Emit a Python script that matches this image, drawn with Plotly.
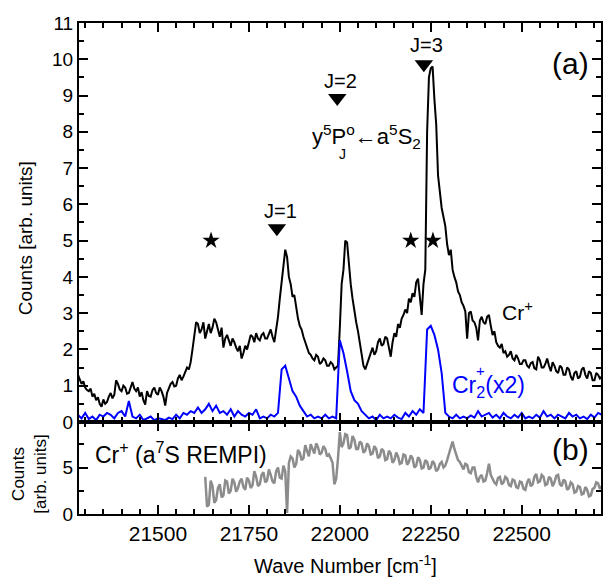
import plotly.graph_objects as go
from plotly.subplots import make_subplots

# ---------------- data ----------------
CR_START, CR_STEP = 21280, 5
cr_counts = [
    1.30, 1.15, 1.05, 1.12, 0.95, 0.88, 0.85, 0.92, 0.70, 0.78,
    0.60, 0.68, 0.50, 0.42, 0.62, 0.50, 0.55, 0.70, 0.80, 0.65,
    0.75, 1.15, 1.05, 0.90, 0.85, 1.00, 0.95, 0.78, 0.80, 0.95,
    1.10, 0.92, 0.85, 0.95, 0.70, 0.82, 0.60, 0.48, 0.85, 0.72,
    0.70, 0.88, 0.95, 0.80, 0.75, 0.95, 0.85, 0.70, 0.45, 0.80,
    0.95, 1.05, 1.10, 0.98, 1.00, 1.20, 1.30, 1.15, 1.25, 1.40,
    1.50, 1.45, 1.65, 2.00, 2.45, 2.75, 2.70, 2.45, 2.55, 2.75,
    2.30, 2.50, 2.70, 2.45, 2.60, 2.85, 2.75, 2.55, 2.35, 2.60,
    2.05, 2.30, 2.40, 2.25, 2.10, 2.30, 2.20, 2.05, 1.95, 2.10,
    1.75, 1.90, 2.10, 2.00, 2.20, 2.40, 2.35, 2.20, 2.45, 2.30,
    2.25, 2.40, 2.45, 2.30, 2.30, 2.45, 2.55, 2.35, 2.20, 2.55,
    2.90, 3.40, 3.90, 4.40, 4.75, 4.55, 4.00, 3.80, 3.45, 3.50,
    3.10, 2.85, 2.65, 2.55, 2.35, 2.20, 2.00, 1.90, 1.85, 1.75,
    1.70, 1.85, 1.80, 1.60, 1.65, 1.75, 1.70, 1.55, 1.55, 1.65,
    1.60, 1.45, 1.50, 1.55, 2.60, 3.80, 4.20, 5.00, 4.95, 4.30,
    3.80, 3.40, 3.00, 2.75, 2.50, 2.15, 1.85, 1.55, 1.45, 1.60,
    1.75, 1.90, 2.05, 1.85, 1.95, 2.20, 2.30, 2.10, 2.15, 2.35,
    2.30, 2.05, 1.80, 2.20, 2.45, 2.35, 2.70, 2.60, 2.85, 2.95,
    3.10, 3.00, 3.40, 3.30, 3.55, 3.45, 3.85, 3.95, 3.40, 2.95,
    3.80, 4.20, 8.00, 9.50, 9.75, 9.80, 8.90, 8.20, 6.80, 6.30,
    5.90, 5.65, 5.40, 4.90, 4.60, 4.75, 4.20, 4.00, 3.85, 3.60,
    3.50, 3.30, 3.20, 3.05, 2.30, 3.00, 3.05, 2.80, 2.75, 2.60,
    2.25, 2.80, 2.90, 2.75, 2.70, 2.90, 2.95, 2.65, 2.40, 2.50,
    2.20, 2.10, 2.05, 2.15, 1.90, 1.95, 1.80, 1.85, 1.95, 1.75,
    1.70, 1.85, 1.75, 1.60, 1.60, 1.70, 1.70, 1.55, 1.50, 1.62,
    1.65, 1.48, 1.45, 1.80, 1.70, 1.50, 1.50, 1.60, 1.75, 1.55,
    1.40, 1.65, 1.55, 1.40, 1.35, 1.55, 1.50, 1.30, 1.30, 1.50,
    1.45, 1.25, 1.15, 1.35, 1.40, 1.20, 1.25, 1.45, 1.50, 1.30,
    1.20, 1.40, 1.35, 1.15, 1.15, 1.35, 1.30, 1.20, 1.25,
]

CR2_START, CR2_STEP = 21280, 10
cr2_counts_x2 = [
    0.20, 0.10, 0.25, 0.08, 0.15, 0.05, 0.20, 0.15, 0.25, 0.20,
    0.10, 0.25, 0.30, 0.15, 0.58, 0.15, 0.10, 0.20, 0.05, 0.10,
    0.15, 0.05, 0.10, 0.08, 0.05, 0.12, 0.08, 0.20, 0.10, 0.25,
    0.20, 0.30, 0.25, 0.40, 0.25, 0.35, 0.50, 0.30, 0.45, 0.25,
    0.30, 0.20, 0.35, 0.15, 0.30, 0.20, 0.15, 0.25, 0.20, 0.35,
    0.10, 0.15, 0.10, 0.20, 0.15, 0.25, 1.45, 1.55, 1.20, 0.85,
    0.70, 0.45, 0.30, 0.15, 0.20, 0.10, 0.15, 0.10, 0.20, 0.10,
    0.15, 0.10, 2.25, 1.90, 1.40, 0.85, 0.60, 0.50, 0.30, 0.20,
    0.10, 0.15, 0.05, 0.20, 0.10, 0.15, 0.10, 0.20, 0.12, 0.08,
    0.25, 0.15, 0.30, 0.20, 0.35, 0.25, 2.55, 2.65, 2.40, 2.00,
    1.35, 0.25, 0.15, 0.10, 0.20, 0.10, 0.15, 0.10, 0.18, 0.12,
    0.30, 0.15, 0.20, 0.25, 0.12, 0.20, 0.10, 0.25, 0.15, 0.10,
    0.20, 0.12, 0.25, 0.10, 0.15, 0.10, 0.20, 0.12, 0.30, 0.15,
    0.20, 0.10, 0.20, 0.15, 0.10, 0.25, 0.15, 0.20, 0.10, 0.15,
    0.08, 0.20, 0.12, 0.25, 0.20,
]

REMPI_START, REMPI_STEP = 21630, 5
rempi_counts = [
    4.0, 0.8, 1.0, 3.6, 3.0, 1.2, 1.5, 2.8, 3.2, 1.8,
    2.0, 3.6, 3.5, 2.2, 2.5, 3.8, 3.4, 2.4, 2.8, 3.5,
    3.8, 2.9, 2.6, 3.9, 3.6, 2.8, 3.1, 4.6, 4.0, 3.0,
    3.2, 4.2, 4.5, 3.4, 3.6, 4.8, 4.2, 3.5, 3.3, 4.6,
    5.0, 3.9, 3.8, 5.2, 4.6, 0.1, 5.5, 6.2, 6.0, 5.0,
    5.4, 6.9, 6.6, 5.8, 6.0, 7.4, 6.8, 6.2, 7.5, 6.9,
    6.5, 7.6, 7.2, 6.4, 6.6, 7.3, 7.0, 6.2, 6.4, 6.0,
    5.5, 3.2, 3.8, 6.0, 8.8, 7.2, 7.6, 8.6, 8.5, 7.0,
    7.2, 8.4, 8.0, 7.0, 7.0, 7.8, 7.6, 6.6, 6.8, 7.6,
    7.3, 6.4, 6.5, 7.3, 7.0, 6.0, 6.2, 7.0, 6.8, 5.8,
    5.9, 6.8, 6.5, 5.5, 5.8, 6.6, 6.2, 5.4, 5.5, 6.4,
    6.3, 5.3, 5.6, 6.3, 6.0, 5.0, 5.2, 6.1, 5.8, 4.9,
    5.0, 5.8, 5.6, 4.8, 5.0, 5.7, 5.4, 4.6, 4.8, 5.4,
    5.6, 5.0, 5.2, 5.8, 6.5, 7.2, 7.8, 7.0, 6.4, 5.8,
    5.6, 5.2, 4.8, 5.4, 5.3, 4.5, 4.4, 5.0, 5.0, 4.0,
    3.4, 4.0, 4.2, 3.5, 3.6, 4.4, 5.4, 4.2, 3.8, 3.4,
    3.2, 3.9, 4.0, 3.2, 3.4, 4.0, 3.8, 3.1, 3.0, 3.7,
    3.6, 2.9, 2.8, 3.5, 3.4, 2.7, 2.6, 3.4, 3.8, 3.0,
    3.2, 4.0, 4.3, 3.4, 3.5, 4.2, 4.0, 3.1, 3.2, 4.0,
    3.8, 3.0, 3.4, 4.1, 4.2, 3.2, 3.0, 3.7, 3.5, 2.6,
    2.8, 3.4, 3.2, 2.3, 2.4, 3.0, 2.9, 2.1, 2.2, 2.9,
    2.6, 1.9, 2.0, 2.7, 2.8, 3.4, 3.3, 2.7, 3.0,
]

j_labels = ["J=1", "J=2", "J=3"]
j_pos_x = [21827, 21993, 22231]
j_pos_y = [5.34, 8.93, 9.86]
j_label_x = [21838, 22002, 22237]
j_label_y = [5.81, 9.40, 10.38]

star_x = [21646, 22195, 22256]
star_y = [5.0, 5.0, 5.0]

x_range = [21283, 22718]
x_ticks = [21500, 21750, 22000, 22250, 22500]
y_ticks_top = list(range(0, 12))
y_ticks_bottom = [0, 5]

# ---------------- figure ----------------
wn = [CR_START + CR_STEP * i for i in range(len(cr_counts))]
wn2 = [CR2_START + CR2_STEP * i for i in range(len(cr2_counts_x2))]
wn_r = [REMPI_START + REMPI_STEP * i for i in range(len(rempi_counts))]

FONT = "Liberation Sans, Arial, sans-serif"

fig = make_subplots(rows=2, cols=1, shared_xaxes=True, vertical_spacing=0,
                    row_heights=[0.8126, 0.1874])

fig.add_trace(go.Scatter(x=wn, y=cr_counts, mode="lines",
                         line=dict(color="black", width=2), showlegend=False),
              row=1, col=1)
fig.add_trace(go.Scatter(x=wn2, y=cr2_counts_x2, mode="lines",
                         line=dict(color="#0000ff", width=2), showlegend=False),
              row=1, col=1)
fig.add_trace(go.Scatter(x=j_pos_x, y=j_pos_y, mode="markers",
                         marker=dict(symbol="triangle-down", size=16, color="black"),
                         showlegend=False), row=1, col=1)
fig.add_trace(go.Scatter(x=star_x, y=star_y, mode="markers",
                         marker=dict(symbol="star", size=13, color="black"),
                         showlegend=False), row=1, col=1)
fig.add_trace(go.Scatter(x=wn_r, y=rempi_counts, mode="lines",
                         line=dict(color="#8c8c8c", width=2.5), showlegend=False),
              row=2, col=1)

axis_common = dict(showline=True, linewidth=2, linecolor="black", mirror="ticks",
                   ticks="inside", tickwidth=1.5, tickcolor="black", ticklen=9,
                   showgrid=False, zeroline=False)

fig.update_xaxes(**axis_common, range=x_range, tickvals=x_ticks, tickformat="d",
                 tickfont=dict(family=FONT, size=21, color="black"),
                 minor=dict(dtick=50, tick0=21300, ticks="inside", ticklen=5,
                            tickwidth=1.5, tickcolor="black"))
fig.update_xaxes(showticklabels=False, row=1, col=1)
fig.update_xaxes(showticklabels=True, row=2, col=1)

fig.update_yaxes(**axis_common, tickfont=dict(family=FONT, size=19, color="black"))
fig.update_yaxes(range=[0, 11], tickvals=y_ticks_top,
                 minor=dict(dtick=0.5, ticks="inside", ticklen=5,
                            tickwidth=1.5, tickcolor="black"),
                 row=1, col=1)
fig.update_yaxes(range=[0, 9.9], tickvals=y_ticks_bottom,
                 minor=dict(dtick=2.5, ticks="inside", ticklen=5,
                            tickwidth=1.5, tickcolor="black"),
                 row=2, col=1)

ann = []
def add_text(text, x, y, size, xref="x", yref="y", color="black", **kw):
    ann.append(dict(text=text, x=x, y=y, xref=xref, yref=yref, showarrow=False,
                    xanchor="center", yanchor="middle",
                    font=dict(family=FONT, size=size, color=color), **kw))

for lab, xx, yy in zip(j_labels, j_label_x, j_label_y):
    add_text(lab, xx, yy, 20)

add_text("(a)", 22633, 9.89, 30)
add_text("(b)", 22633, 6.9, 30, xref="x2", yref="y2")
add_text("y<sup>5</sup>P<sup>o</sup>\u2190a<sup>5</sup>S<sub>2</sub>", 22073, 7.86, 22)
add_text("J", 22007, 7.40, 14)
add_text("Cr<sup>+</sup>", 22488, 3.05, 21)
add_text("Cr<sub>2</sub>(x2)", 22409, 0.99, 23, color="#0000ff")
add_text("+", 22386, 1.42, 15, color="#0000ff")
add_text("Cr<sup>+</sup> (a<sup>7</sup>S REMPI)", 21564, 6.6, 23, xref="x2", yref="y2")

# axis titles
add_text("Counts [arb. units]", -0.103, 0.562, 19, xref="paper", yref="paper",
         textangle=-90)
add_text("Counts<br>[arb. units]", -0.095, 0.081, 17, xref="paper", yref="paper",
         textangle=-90)
add_text("Wave Number [cm<sup>-1</sup>]", 0.51, -0.103, 20, xref="paper", yref="paper")

fig.update_layout(
    width=605, height=580,
    margin=dict(l=79, r=2, t=23, b=66),
    plot_bgcolor="white", paper_bgcolor="white",
    annotations=ann,
    font=dict(family=FONT, color="black"),
)

fig.write_html("out.html",
               config={"displayModeBar": False},
               post_script="document.body.style.margin='0';"
                           "document.body.style.overflow='hidden';")
